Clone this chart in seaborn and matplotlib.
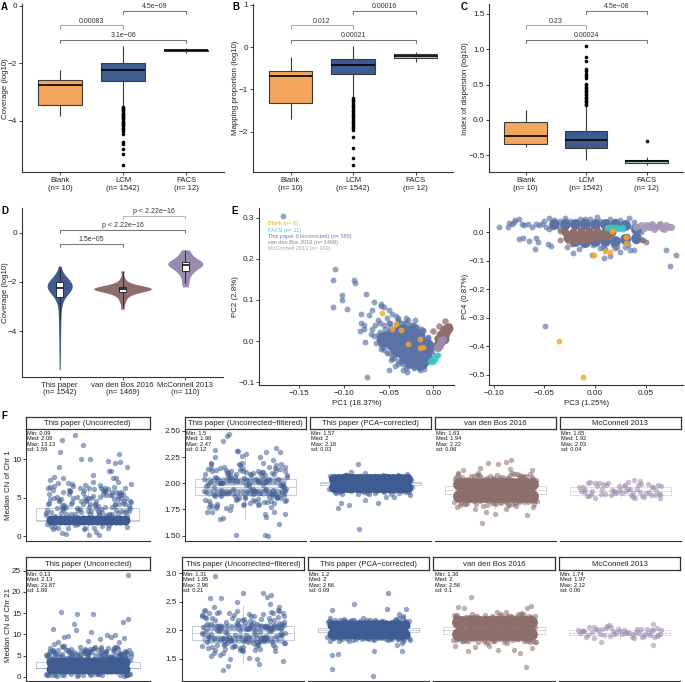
"""
Multi-panel QC figure: box plots, violins, PCA scatters and copy number strips.
Values are read off the published picture by eye.
"""
import matplotlib
matplotlib.use("Agg")
import matplotlib.pyplot as plt
import pandas as pd
import seaborn as sns

W, H = 685, 682

ORANGE = "#F2A65E"
BLUE = "#3E5C92"
BROWN = "#8E6E6D"
MAUVE = "#9A8AB0"
CYAN = "#3CC8C0"
FACS_FILL = "#A8C6C4"
SCAT_BLUE = "#5A72A6"
SCAT_ORANGE = "#F8A825"

# ---- panels A-C
box_groups = ["Blank", "LCM", "FACS"]
box_labels = ["Blank\n(n= 10)", "LCM\n(n= 1542)", "FACS\n(n= 12)"]

cov_blank = [-3.85, -3.47, -2.77, -2.58, -2.25]
cov_lcm = [-3.5, -2.62, -2.24, -2.0, -1.4]
cov_facs = [-1.64, -1.57, -1.55, -1.53, -1.47]
cov_out = [-3.52, -3.56, -3.6, -3.64, -3.68, -3.72, -3.76, -3.8, -3.84, -3.88, -3.92, -3.96, -4.0, -4.04,
           -4.08, -4.12, -4.16, -4.2, -4.25, -4.3, -4.37, -4.45, -4.75, -4.82, -5.0, -5.15, -5.55]

map_blank = [-1.69, -1.33, -0.69, -0.56, -0.24]
map_lcm = [-1.19, -0.64, -0.42, -0.27, 0.02]
map_facs = [-0.35, -0.25, -0.21, -0.17, -0.11]
map_out = [-1.2, -1.24, -1.28, -1.32, -1.36, -1.4, -1.44, -1.48, -1.52, -1.56, -1.6, -1.64, -1.68, -1.72,
           -1.76, -1.8, -1.84, -1.88, -1.92, -1.97, -2.13, -2.39, -2.63, -2.78]

iod_blank = [-0.38, -0.345, -0.23, -0.03, 0.14]
iod_lcm = [-0.57, -0.40, -0.29, -0.15, 0.2]
iod_facs = [-0.63, -0.61, -0.585, -0.56, -0.53]
iod_out = [0.21, 0.23, 0.25, 0.27, 0.29, 0.31, 0.33, 0.35, 0.37, 0.39, 0.41, 0.43, 0.45, 0.47, 0.49, 0.51,
           0.6, 0.62, 0.65, 0.69, 0.72, 0.83, 0.89, 1.04]
iod_facs_out = [-0.3]

# ---- panel D
vio_groups = ["This paper", "van den Bos 2016", "McConnell 2013"]
vio_labels = ["This paper\n(n= 1542)", "van den Bos 2016\n(n= 1469)", "McConnell 2013\n(n= 110)"]
vio_this = [-5.55, -5.0, -4.6, -4.2, -3.9, -3.6, -3.35, -3.1, -2.9, -2.75, -2.65, -2.55, -2.48, -2.42, -2.38,
            -2.34, -2.3, -2.28, -2.26, -2.24, -2.23, -2.22, -2.21, -2.2, -2.19, -2.18, -2.17, -2.16, -2.15, -2.14,
            -2.13, -2.12, -2.11, -2.1, -2.08, -2.06, -2.04, -2.02, -2.0, -1.96, -1.92, -1.87, -1.8, -1.65, -1.35]
vio_vdb = [-3.1, -2.85, -2.7, -2.6, -2.52, -2.47, -2.43, -2.4, -2.38, -2.36, -2.34, -2.32, -2.31, -2.3, -2.29,
           -2.28, -2.27, -2.26, -2.25, -2.24, -2.23, -2.22, -2.2, -2.18, -2.15, -2.12, -2.08, -2.0, -1.85, -1.55]
vio_mcc = [-2.2, -2.05, -1.9, -1.75, -1.65, -1.58, -1.52, -1.47, -1.42, -1.38, -1.35, -1.32, -1.3, -1.27, -1.25,
           -1.22, -1.2, -1.17, -1.14, -1.1, -1.05, -0.98, -0.9, -0.8, -0.7]
vbox_this = [-3.5, -2.61, -2.23, -2.0, -1.4]
vbox_vdb = [-3.0, -2.42, -2.3, -2.22, -1.6]
vbox_mcc = [-2.05, -1.54, -1.32, -1.18, -0.72]

# ---- panel E, PC1 / PC2
pc1_blue = [-0.168, -0.11, -0.112, -0.089, -0.088, -0.102, -0.102, -0.112, -0.096, -0.075, -0.066, -0.059, -0.068,
            -0.058, -0.055, -0.081, -0.072, -0.081, -0.078, -0.082, -0.077, -0.062, -0.076, -0.074, -0.049, -0.043,
            -0.034, -0.029, -0.058, -0.055, -0.05, -0.046, -0.042, -0.039, -0.052, -0.06, -0.065, -0.068, -0.07,
            -0.062, -0.055, -0.048, -0.04, -0.033, -0.026, -0.02, -0.012, -0.006, -0.003, -0.008, -0.015, -0.022,
            -0.028, -0.036, -0.044, -0.05, -0.056, -0.06, -0.028, -0.022, -0.014, -0.01, -0.03, -0.04, -0.047,
            -0.066, -0.06, -0.054, -0.048, -0.042, -0.036, -0.03, -0.024, -0.018, -0.012, -0.006, -0.004, -0.002,
            -0.006, -0.01, -0.016, -0.022, -0.028, -0.034, -0.04, -0.046, -0.052, -0.058, -0.064, -0.05, -0.04,
            -0.03, -0.02, -0.045, -0.035, -0.025, -0.015, -0.05, -0.06]
pc2_blue = [0.303, 0.176, 0.149, 0.149, 0.141, 0.112, 0.101, 0.084, 0.078, 0.115, 0.095, 0.09, 0.076,
            0.085, 0.082, 0.065, 0.063, 0.043, 0.03, 0.025, 0.04, 0.052, -0.002, -0.088, -0.07, -0.06,
            -0.07, -0.075, -0.01, -0.022, 0.075, 0.065, 0.06, 0.057, 0.055, 0.045, 0.04, 0.03, 0.018,
            0.015, 0.038, 0.045, 0.048, 0.045, 0.038, 0.033, 0.025, 0.008, -0.025, -0.05, -0.063, -0.062,
            -0.058, -0.05, -0.04, -0.03, -0.015, 0.0, 0.05, 0.04, 0.03, -0.068, -0.065, -0.055, -0.045,
            0.012, 0.022, 0.03, 0.034, 0.04, 0.043, 0.044, 0.04, 0.035, 0.028, 0.01, -0.01, -0.03,
            -0.045, -0.058, -0.066, -0.066, -0.06, -0.056, -0.048, -0.042, -0.03, -0.02, -0.005, 0.045, 0.05,
            0.055, 0.05, -0.035, -0.045, -0.058, -0.07, 0.015, 0.005]
pc1_core = [-0.055, -0.045, -0.035, -0.025, -0.018, -0.045, -0.035, -0.025, -0.015, -0.008, -0.04, -0.03, -0.02,
            -0.01, -0.03, -0.02, -0.01, -0.015, -0.025]
pc2_core = [0.005, 0.015, 0.022, 0.02, 0.012, -0.005, 0.002, 0.0, -0.005, -0.012, -0.02, -0.018, -0.02,
            -0.025, -0.035, -0.04, -0.04, -0.052, -0.045]
pc1_brown = [0.006, 0.013, 0.0, 0.003, 0.008, 0.011, 0.015, 0.017, 0.018, 0.004, 0.012, 0.016, 0.01, 0.014]
pc2_brown = [0.036, 0.048, 0.025, -0.013, 0.018, 0.03, 0.034, 0.036, 0.03, 0.008, 0.032, 0.026, 0.024, 0.012]
pc1_brown_core = [0.004, 0.007, 0.01, 0.012, 0.014, 0.016, 0.009, 0.012, 0.006]
pc2_brown_core = [-0.012, -0.002, 0.008, 0.016, 0.024, 0.031, 0.015, 0.005, 0.004]
pc1_mauve = [0.004, 0.006, 0.008, 0.01, 0.005, 0.007, 0.009, 0.011]
pc2_mauve = [-0.014, -0.01, -0.005, 0.0, -0.018, -0.012, 0.003, 0.006]
pc1_cyan = [-0.004, -0.002, 0.0, 0.001, 0.002, 0.003, 0.004, 0.0, -0.003, 0.002, 0.005]
pc2_cyan = [-0.05, -0.047, -0.044, -0.041, -0.038, -0.036, -0.034, -0.05, -0.046, -0.045, -0.033]
pc1_orange = [-0.057, -0.046, -0.042, -0.036, -0.028, -0.015, -0.015, -0.012]
pc2_orange = [0.068, 0.029, 0.041, 0.027, -0.006, 0.005, -0.018, -0.015]

# ---- panel E, PC3 / PC4
pc3_blue = [-0.095, -0.049, 0.074, 0.08, 0.07, 0.034, 0.002, -0.075, -0.071, -0.065, -0.059, -0.058, -0.056, -0.046,
            -0.043, -0.022, -0.016, -0.003, 0.009, 0.015, 0.025, 0.035, 0.038, 0.047, -0.086, -0.085, -0.079, -0.075,
            -0.045, -0.03, -0.082, -0.072, -0.066, -0.058, -0.052, -0.04, -0.035, -0.025, -0.018, -0.01, -0.08,
            -0.07, -0.062, -0.055, -0.048, -0.042, -0.032, -0.02, -0.012, 0.005, 0.012, 0.02, 0.028, 0.036, 0.042,
            0.04, 0.03, 0.018, 0.008, -0.002, 0.01, 0.02, 0.03, 0.04, -0.01, 0.045, -0.028, -0.05, -0.04, -0.015,
            -0.005, 0.015, 0.025, 0.038, -0.045, -0.035, -0.012, 0.005, 0.022, 0.033]
pc4_blue = [0.018, -0.33, -0.119, -0.08, -0.063, 0.051, 0.055, -0.022, -0.019, -0.031, -0.058, -0.02, -0.035, -0.04,
            -0.048, -0.072, -0.06, -0.078, -0.09, -0.084, -0.069, -0.063, -0.063, -0.028, 0.019, 0.033, 0.042, 0.045,
            0.05, 0.05, 0.028, 0.03, 0.03, 0.03, 0.03, 0.03, 0.04, 0.04, 0.035, 0.045, 0.035,
            0.025, 0.02, 0.025, 0.02, 0.02, 0.02, 0.03, 0.04, 0.04, 0.035, 0.04, 0.03, 0.02, 0.01,
            -0.02, -0.035, -0.045, -0.05, -0.045, -0.06, -0.055, -0.05, -0.03, -0.04, 0.0, -0.05, 0.04, 0.044, 0.046,
            0.048, 0.046, 0.044, 0.035, 0.012, 0.01, -0.045, -0.055, -0.05, -0.045]
pc3_core = [-0.04, -0.03, -0.02, -0.01, 0.0, 0.01, 0.02, 0.03, 0.04, -0.02, -0.01, 0.0, 0.01, 0.02, 0.03, 0.04]
pc4_core = [0.03, 0.03, 0.03, 0.03, 0.03, 0.03, 0.03, 0.025, 0.012, -0.03, -0.035, -0.03, -0.03, -0.03, -0.025, -0.02]
pc3_brown = [-0.035, -0.035, -0.023, 0.046, 0.032, -0.027, 0.05, -0.016, -0.006]
pc4_brown = [-0.028, 0.005, -0.04, -0.028, -0.014, -0.032, -0.034, -0.033, -0.03]
pc3_brown_core = [-0.03, -0.022, -0.014, -0.006, 0.002, 0.01, 0.017, -0.028, -0.02, -0.012, -0.004, 0.004, 0.012,
                  -0.026, -0.018, -0.01, -0.002, 0.006, 0.014]
pc4_brown_core = [0.0, 0.002, 0.003, 0.004, 0.004, 0.003, 0.002, -0.02, -0.022, -0.022, -0.02, -0.018, -0.012,
                  -0.01, -0.011, -0.011, -0.01, -0.009, -0.006]
pc3_mauve = [0.04, 0.045, 0.05, 0.053, 0.056, 0.06, 0.063, 0.066, 0.07, 0.073, 0.075, 0.048, 0.058, 0.064, 0.068, 0.054]
pc4_mauve = [0.02, 0.024, 0.027, 0.018, 0.03, 0.018, 0.026, 0.015, 0.024, 0.02, 0.017, 0.015, 0.012, 0.03, 0.012, 0.026]
pc3_cyan = [0.012, 0.015, 0.018, 0.021, 0.024, 0.027, 0.016, 0.02, 0.024, 0.028, 0.013]
pc4_cyan = [0.015, 0.018, 0.02, 0.017, 0.016, 0.018, 0.012, 0.01, 0.012, 0.012, 0.02]
pc3_orange = [-0.036, -0.012, -0.001, 0.01, 0.015, 0.017, 0.031, 0.031]
pc4_orange = [-0.38, -0.508, -0.08, -0.067, -0.07, 0.005, -0.037, -0.015]

# ---- panel F, shared horizontal jitter for the cloud of each strip
jitter = [-0.93, 0.41, -0.22, 0.78, 0.05, -0.61, 0.29, -0.84, 0.66, -0.37, 0.97, -0.08, 0.52, -0.72, 0.17, -0.46, 0.88,
          -0.15, 0.35, -0.97, 0.61, -0.29, 0.73, 0.0, -0.55, 0.47, -0.79, 0.23, -0.41, 0.91, -0.66, 0.11, 0.57, -0.89,
          0.31, -0.19, 0.82, -0.51, 0.69, -0.03, -0.75, 0.39, 0.95, -0.33, 0.14, -0.6, 0.76, -0.12, 0.5, -0.87, 0.26,
          -0.44, 0.85, 0.08, -0.69, 0.63, -0.25, 0.43, -0.81, 0.19, 0.99, -0.57, 0.33, -0.06, 0.71, -0.39, 0.55, -0.95,
          0.02, 0.87]
core_cols = [-0.36, -0.315, -0.27, -0.225, -0.18, -0.135, -0.09, -0.045, 0.0, 0.045, 0.09, 0.135, 0.18, 0.225, 0.27,
             0.315, 0.36]

# chr 1
c1_un_cloud = [4.1, 6.2, 3.4, 5.3, 2.9, 4.8, 6.6, 3.1, 5.7, 4.4, 3.7, 6.0, 2.7, 5.1, 4.0, 6.9, 3.3, 4.6, 5.5, 3.0, 6.4, 2.8,
               4.2, 5.0, 3.6, 6.1, 4.9, 3.2, 5.8, 2.6, 4.5, 7.0, 3.8, 5.4, 3.5, 6.3, 4.3, 2.9, 5.2, 4.7, 1.2, 5.9, 3.9,
               6.5, 1.0, 4.0, 3.3, 5.6, 1.4, 4.8, 2.7, 6.0, 3.1, 5.0, 1.1, 4.2, 3.6, 5.3, 0.9, 4.5, 6.7, 3.4, 1.3, 5.1,
               3.0, 4.1, 5.7, 1.5, 3.8, 6.2]
c1_un_x = [-0.12, -0.25, -0.05, -0.265, -0.07, 0.02, -0.28, 0.2, 0.265, 0.31, 0.3, 0.38, 0.21, 0.23, 0.05, -0.33, -0.37,
           -0.24, 0.245, 0.275, -0.21, -0.25, 0.01, 0.105, -0.03, 0.08]
c1_un_y = [13.13, 12.5, 11.8, 10.9, 10.0, 10.0, 9.0, 9.7, 9.5, 9.6, 10.65, 8.9, 8.4, 8.5, 7.9, 7.7, 7.3,
           7.5, 7.5, 7.6, 0.3, 0.4, 0.15, 0.09, 1.0, 0.55]
c1_un_rows = [2.08]

c1_fi_cloud = [1.97, 2.11, 1.84, 2.04, 1.92, 2.15, 1.79, 2.01, 1.88, 2.08, 1.95, 2.19, 1.82, 2.06, 1.9, 2.13, 1.99, 1.86, 2.1, 1.93,
               1.77, 2.03, 2.17, 1.87, 2.0, 1.94, 2.12, 1.83, 2.07, 1.96, 1.8, 2.09, 1.91, 2.14, 1.85, 2.02, 1.98, 2.16, 1.81, 2.05,
               1.89, 2.11, 1.93, 1.78, 2.08, 2.0, 1.86, 2.13, 1.95, 1.83, 2.04, 1.91, 2.18, 1.97, 1.76, 2.1, 1.88, 2.01, 2.15, 1.84,
               2.06, 1.94, 1.8, 2.12, 1.9, 2.03, 1.87, 2.09, 1.98, 1.92]
c1_fi_x = [-0.16, -0.185, -0.22, -0.3, -0.086, -0.076, 0.01, -0.036, 0.146, 0.21, 0.3, 0.34, 0.27, 0.18, 0.39, 0.39, -0.3,
           -0.34, -0.096, 0.2, 0.23, 0.33, -0.25, -0.225, -0.285, -0.38, -0.33, 0.195, 0.21, 0.39, 0.28, -0.15]
c1_fi_y = [2.47, 2.455, 2.4, 2.32, 2.31, 2.31, 2.28, 2.26, 2.25, 2.3, 2.335, 2.3, 2.22, 2.19, 2.16, 2.12, 2.25,
           2.18, 1.51, 1.51, 1.5, 1.61, 1.655, 1.665, 1.785, 1.73, 1.73, 1.71, 1.68, 1.71, 1.73, 1.745]
c1_fi_rows = [1.92, 2.02]

c1_pc_cloud = [2.05, 1.95, 2.07, 1.93, 2.06, 1.94, 2.04, 1.92, 2.08, 1.96, 2.03, 1.91, 2.06, 1.94, 2.05, 1.93, 2.07, 1.92, 2.04, 1.95,
               2.06, 1.9, 2.05, 1.94, 2.08, 1.93, 2.03, 1.95, 2.07, 1.92, 2.04, 1.91, 2.06, 1.96, 2.05, 1.93, 2.02, 1.94, 2.07, 1.9]
c1_pc_x = [-0.126, -0.113, -0.32, -0.21, -0.05, 0.076, 0.16, 0.235, 0.39, -0.19, -0.05, 0.125, 0.36, -0.29]
c1_pc_y = [2.18, 1.567, 1.76, 1.79, 1.84, 1.81, 1.865, 1.87, 1.89, 2.11, 2.1, 2.08, 2.09, 1.81]
c1_pc_rows = [1.96, 2.04]

c1_vb_cloud = [2.06, 1.8, 2.04, 1.82, 2.08, 1.84, 2.05, 1.79, 2.07, 1.83, 2.03, 1.81, 2.09, 1.85, 2.06, 1.8, 2.04, 1.83, 2.08, 1.82,
               2.05, 1.78, 2.07, 1.84, 2.03, 1.81, 2.06, 1.83, 2.1, 1.8, 2.04, 1.82, 2.07, 1.85, 2.05, 1.79, 2.09, 1.83, 2.06, 1.81,
               1.9, 1.95, 2.0, 1.87, 1.92, 1.97, 2.02, 1.86, 1.94, 1.99]
c1_vb_x = [0.16, -0.076, 0.03, 0.11, 0.145, -0.15, -0.32, 0.36, -0.37, 0.245, -0.137, 0.31, 0.0, -0.2, -0.385, -0.09, 0.11, 0.37]
c1_vb_y = [2.22, 2.19, 2.18, 2.2, 2.135, 2.145, 2.13, 2.13, 2.1, 2.08, 1.625, 1.7, 1.71, 1.75, 1.775, 1.73, 1.75, 1.77]
c1_vb_rows = [1.88, 1.99]

c1_mc_cloud = [1.93, 1.98, 1.89, 1.96, 1.91, 2.0, 1.87, 1.94, 1.99, 1.9, 1.97, 1.92, 1.88, 2.01, 1.95, 1.9, 1.98, 1.93, 1.86, 1.96,
               1.91, 2.0, 1.89, 1.94, 1.97, 1.92, 1.88, 1.95, 1.99, 1.9, 1.93, 1.98, 1.87, 1.96, 1.91, 1.94, 1.89, 2.0, 1.92, 1.97,
               1.88, 1.95, 1.9, 1.98, 1.93, 1.86, 1.96, 1.91, 1.99, 1.92, 1.89, 1.95, 1.94, 1.97, 1.9]
c1_mc_x = [0.39, 0.14, -0.32, 0.08, 0.2]
c1_mc_y = [1.855, 2.03, 2.0, 2.01, 2.02]

# chr 21
c21_un_cloud = [4.5, 6.1, 5.2, 3.8, 6.6, 4.9, 5.6, 4.2, 6.9, 5.0, 3.9, 6.3, 4.6, 5.4, 7.1, 4.0, 5.8, 6.0, 4.4, 5.1, 6.7, 3.7, 5.5,
                4.8, 7.3, 4.1, 5.9, 6.2, 4.7, 5.3, 3.6, 6.5, 4.3, 5.7, 7.0, 4.9, 5.2, 6.4, 4.0, 5.0, 0.4, 5.6, 0.6, 4.6, 6.8,
                0.3, 5.4, 0.5, 4.2, 6.1, 0.7, 5.8, 4.4, 0.5, 6.3, 5.1, 0.2, 4.8, 6.0, 0.6, 5.5, 4.1, 0.4, 6.6, 5.3, 0.7, 4.5,
                0.5, 5.9, 0.3]
c21_un_x = [0.39, -0.26, -0.11, 0.05, 0.39, 0.34, -0.14, -0.34, -0.12, 0.03, -0.23, -0.19, 0.18, 0.26, 0.22, 0.35, -0.29,
            -0.33, 0.0, 0.12, 0.3, 0.35]
c21_un_y = [23.87, 15.3, 14.9, 14.8, 13.6, 13.0, 12.4, 11.2, 10.9, 10.5, 9.4, 9.5, 9.8, 9.9, 9.4, 9.2, 8.1,
            7.7, 8.5, 8.8, 8.2, 0.13]
c21_un_rows = [1.9, 3.4]

c21_fi_cloud = [1.93, 2.2, 1.72, 2.05, 1.84, 2.31, 1.66, 2.12, 1.98, 1.78, 2.25, 1.9, 2.08, 1.7, 2.16, 1.86, 2.02, 2.34, 1.75, 1.96,
                2.22, 1.82, 2.1, 1.63, 2.0, 2.28, 1.88, 2.14, 1.68, 1.94, 2.18, 1.8, 2.06, 2.36, 1.73, 1.91, 2.24, 1.85, 2.03, 1.65,
                2.11, 1.97, 1.77, 2.3, 1.89, 2.07, 1.71, 2.19, 1.83, 1.99, 2.26, 1.76, 2.13, 1.92, 1.6, 2.04, 2.21, 1.87, 1.69, 2.09,
                1.95, 2.33, 1.79, 2.01, 1.74, 2.15, 1.9, 2.27, 1.81, 2.06]
c21_fi_x = [-0.28, 0.0, 0.2, 0.275, -0.32, -0.22, 0.235, -0.06, 0.27, 0.35, -0.29, -0.385, 0.39, -0.2, -0.15, -0.13, 0.155,
            -0.31, -0.23, 0.055, 0.14, 0.39]
c21_fi_y = [2.96, 2.65, 2.65, 2.62, 2.575, 2.575, 2.59, 2.49, 2.46, 2.41, 2.41, 2.34, 2.31, 1.31, 1.38, 1.5, 1.41,
            1.55, 1.56, 1.52, 1.49, 1.47]
c21_fi_rows = [1.85, 2.05]

c21_pc_cloud = [2.17, 1.85, 2.15, 1.88, 2.18, 1.84, 2.14, 1.87, 2.2, 1.83, 2.16, 1.86, 2.13, 1.89, 2.19, 1.82, 2.15, 1.85, 2.17, 1.88,
                2.14, 1.84, 2.21, 1.87, 2.16, 1.83, 2.18, 1.86, 2.13, 1.9, 2.19, 1.85, 2.15, 1.81, 2.17, 1.88, 2.22, 1.84, 2.14, 1.86]
c21_pc_x = [0.197, -0.143, 0.19, 0.37, 0.305, 0.34, -0.355, -0.355, -0.295, -0.36, 0.05, 0.06, 0.335, 0.28, 0.33]
c21_pc_y = [2.66, 2.47, 2.37, 2.37, 2.28, 2.25, 2.35, 1.32, 1.58, 1.56, 1.2, 1.64, 1.645, 1.74, 1.77]
c21_pc_rows = [1.94, 2.1]

c21_vb_cloud = [2.24, 1.83, 2.27, 1.85, 2.22, 1.81, 2.25, 1.84, 2.2, 1.8, 2.26, 1.86, 2.23, 1.82, 2.28, 1.85, 2.21, 1.79, 2.25, 1.83,
                2.27, 1.84, 2.22, 1.81, 2.24, 1.86, 2.2, 1.8, 2.26, 1.82, 2.23, 1.85, 2.29, 1.83, 2.21, 1.78, 2.25, 1.84, 2.27, 1.81,
                2.0, 1.95, 2.05, 1.9, 2.1, 1.98, 2.03, 1.93, 2.08, 1.97]
c21_vb_x = [-0.23, -0.36, -0.3, 0.36, 0.32, 0.03, 0.115, 0.27, 0.31, -0.26, 0.255, 0.37, 0.04, -0.39, -0.19, 0.2, -0.05]
c21_vb_y = [2.58, 2.41, 2.4, 2.42, 2.4, 2.33, 2.33, 2.31, 1.36, 1.64, 1.6, 1.69, 1.66, 1.72, 1.7, 1.66, 1.72]
c21_vb_rows = [1.93, 2.15]

c21_mc_cloud = [1.96, 2.02, 1.9, 2.0, 1.94, 2.05, 1.88, 1.98, 2.03, 1.92, 2.01, 1.95, 1.89, 2.06, 1.97, 1.93, 2.04, 1.99, 1.87, 2.0,
                1.94, 2.07, 1.91, 1.98, 2.02, 1.95, 1.88, 1.96, 2.03, 1.92, 1.97, 2.01, 1.9, 1.99, 1.93, 2.05, 1.89, 2.0, 1.95, 2.02,
                1.91, 1.97, 1.94, 2.04, 1.96, 1.86, 2.0, 1.93, 2.03, 1.98]
c21_mc_x = [0.33, 0.335, -0.18, -0.1, 0.37]
c21_mc_y = [2.12, 1.74, 1.79, 2.09, 1.9]

# five number boxes behind the strips: min, q1, median, q3, max
c1_boxes = [[0.09, 2.0, 2.08, 3.7, 6.8], [1.66, 1.89, 1.96, 2.04, 2.26], [1.93, 1.985, 2.0, 2.015, 2.07],
            [1.75, 1.9, 1.94, 1.97, 2.1], [1.85, 1.89, 1.93, 1.96, 2.01]]
c21_boxes = [[0.13, 2.0, 2.13, 3.5, 6.5], [1.4, 1.83, 1.95, 2.08, 2.45], [1.85, 1.97, 2.0, 2.04, 2.15],
             [1.78, 1.94, 2.0, 2.06, 2.22], [1.84, 1.92, 1.96, 2.0, 2.08]]

c1_stats = ["Min: 0.09\nMed: 2.08\nMax: 13.13\nsd: 1.59", "Min: 1.5\nMed: 1.96\nMax: 2.47\nsd: 0.12",
            "Min: 1.57\nMed: 2\nMax: 2.18\nsd: 0.03", "Min: 1.63\nMed: 1.94\nMax: 2.22\nsd: 0.06",
            "Min: 1.65\nMed: 1.92\nMax: 2.03\nsd: 0.04"]
c21_stats = ["Min: 0.13\nMed: 2.13\nMax: 23.87\nsd: 1.89", "Min: 1.31\nMed: 1.95\nMax: 2.96\nsd: 0.21",
             "Min: 1.2\nMed: 2\nMax: 2.66\nsd: 0.09", "Min: 1.36\nMed: 2\nMax: 2.58\nsd: 0.1",
             "Min: 1.74\nMed: 1.97\nMax: 2.12\nsd: 0.06"]
strip_titles = ["This paper (Uncorrected)", "This paper (Uncorrected\u2212filtered)", "This paper (PCA\u2212corrected)",
                "van den Bos 2016", "McConnell 2013"]

legend_lines = ["Blank (n= 8)", "FACS (n= 11)", "This paper (Uncorrected) (n= 588)",
                "van den Bos 2016 (n= 1468)", "McConnell 2013 (n= 109)"]
legend_colors = ["#F5A623", "#3CC8C0", "#6D83B0", "#9A7B7B", "#AD9FBF"]

sns.set_theme(style="ticks")
plt.rcParams["font.family"] = ["Liberation Sans", "DejaVu Sans"]
plt.rcParams["axes.linewidth"] = 0.8
plt.rcParams["axes.edgecolor"] = "#333333"
plt.rcParams["text.color"] = "#222222"
plt.rcParams["axes.labelcolor"] = "#222222"
plt.rcParams["xtick.color"] = "#222222"
plt.rcParams["ytick.color"] = "#222222"

fig = plt.figure(figsize=(W / 100, H / 100), dpi=100)


def px_axes(left, top, right, bottom):
    ax = fig.add_axes([left / W, 1 - bottom / H, (right - left) / W, (bottom - top) / H])
    ax.patch.set_alpha(0)
    sns.despine(ax=ax)
    ax.tick_params(axis="y", labelsize=5.9, length=2, width=0.6, pad=1.5)
    ax.tick_params(axis="x", labelsize=5.6, length=2, width=0.6, pad=1.5)
    return ax


def set_ylabel_at(ax, text, x_px):
    # put the y label at a fixed pixel column, the tick widths differ per panel
    ax.set_ylabel(text, fontsize=5.7)
    box = ax.get_position()
    ax.yaxis.set_label_coords((x_px / W - box.x0) / box.width, 0.5)


def bracket(ax, x0, x1, frac, label, color="#777777"):
    trans = ax.get_xaxis_transform()
    tip = 0.021
    ax.plot([x0, x0, x1, x1], [frac - tip, frac, frac, frac - tip], color=color, lw=0.75,
            transform=trans, clip_on=False)
    ax.text((x0 + x1) / 2, frac + 0.003, label, transform=trans, ha="center", va="bottom", fontsize=5, color="#333333")


def box_panel(ax, boxes, fliers, ylim, yticks, ylabel, label_x):
    df = pd.DataFrame({
        "group": [g for g, b in zip(box_groups, boxes) for _ in b],
        "value": [v for b in boxes for v in b],
    })
    sns.boxplot(data=df, x="group", y="value", hue="group", order=box_groups, ax=ax, legend=False,
                palette={"Blank": ORANGE, "LCM": BLUE, "FACS": FACS_FILL}, saturation=1, width=0.7,
                whis=(0, 100), showfliers=False, showcaps=False, linecolor="#3a3a3a", linewidth=0.8,
                medianprops={"color": "black", "linewidth": 1.2})
    for group, vals in fliers.items():
        sns.stripplot(x=[group] * len(vals), y=vals, order=box_groups, ax=ax, jitter=False, color="black", size=2.6)
    ax.set_xlim(-0.6, 2.6)
    ax.set_ylim(*ylim)
    ax.set_yticks(yticks)
    ax.set_xticks(range(3))
    ax.set_xticklabels(box_labels, linespacing=1.15)
    ax.set_xlabel("")
    set_ylabel_at(ax, ylabel, label_x)


# ---- A, B, C
ax_a = px_axes(22, 4, 224, 172.3)
box_panel(ax_a, [cov_blank, cov_lcm, cov_facs], {"LCM": cov_out}, (-5.8, 0.06), [0, -2, -4], "Coverage (log10)", 9)
bracket(ax_a, 0, 1, 0.873, "0.00083", "#aaaaaa")
bracket(ax_a, 1, 2, 0.96, "4.5e\u221209")
bracket(ax_a, 0, 2, 0.787, "3.1e\u221206")

ax_b = px_axes(253, 4, 453, 172.3)
box_panel(ax_b, [map_blank, map_lcm, map_facs], {"LCM": map_out}, (-2.96, 1.02), [1, 0, -1, -2],
          "Mapping proportion (log10)", 239)
bracket(ax_b, 0, 1, 0.873, "0.012", "#aaaaaa")
bracket(ax_b, 1, 2, 0.96, "0.00016")
bracket(ax_b, 0, 2, 0.787, "0.00021")

ax_c = px_axes(489.3, 4, 683, 172.3)
box_panel(ax_c, [iod_blank, iod_lcm, iod_facs], {"LCM": iod_out, "FACS": iod_facs_out}, (-0.74, 1.64),
          [1.5, 1.0, 0.5, 0.0, -0.5], "Index of dispersion (log10)", 469)
bracket(ax_c, 0, 1, 0.873, "0.23", "#aaaaaa")
bracket(ax_c, 1, 2, 0.96, "4.5e\u221208")
bracket(ax_c, 0, 2, 0.787, "0.00024")

# ---- D
ax_d = px_axes(22, 208, 223, 376.7)
vio_sets = [(vio_groups[0], vio_this, BLUE, 0.40, vbox_this), (vio_groups[1], vio_vdb, BROWN, 0.92, vbox_vdb),
            (vio_groups[2], vio_mcc, MAUVE, 0.56, vbox_mcc)]
for group, vals, col, wid, box in vio_sets:
    sns.violinplot(x=[group] * len(vals), y=vals, order=vio_groups, ax=ax_d, color=col, saturation=1, width=wid,
                   cut=0, inner=None, density_norm="width", linewidth=0, bw_adjust=0.7)
    sns.boxplot(x=[group] * len(box), y=box, order=vio_groups, ax=ax_d, color="white", saturation=1, width=0.11,
                whis=(0, 100), showfliers=False, showcaps=False, linecolor="#2a2a2a", linewidth=0.7,
                medianprops={"color": "#111111", "linewidth": 1.2})
ax_d.set_xlim(-0.6, 2.6)
ax_d.set_ylim(-5.84, 1.0)
ax_d.set_yticks([0, -2, -4])
ax_d.set_xticks(range(3))
ax_d.set_xticklabels(vio_labels, linespacing=1.15)
set_ylabel_at(ax_d, "Coverage (log10)", 9)
bracket(ax_d, 1, 2, 0.954, "p < 2.22e\u221216", "#bbbbbb")
bracket(ax_d, 0, 2, 0.87, "p < 2.22e\u221216")
bracket(ax_d, 0, 1, 0.787, "1.5e\u221205")

# ---- E
PCS = 18


def pc_scatter(ax, xs, ys, col, s=PCS, alpha=0.65):
    sns.scatterplot(x=xs, y=ys, ax=ax, color=col, s=s, alpha=alpha, linewidth=0)


ax_e1 = px_axes(259.3, 208.3, 453.7, 385.3)
pc_scatter(ax_e1, pc1_core, pc2_core, SCAT_BLUE, s=130, alpha=1)
pc_scatter(ax_e1, pc1_blue, pc2_blue, SCAT_BLUE)
pc_scatter(ax_e1, pc1_brown_core, pc2_brown_core, BROWN, s=50, alpha=1)
pc_scatter(ax_e1, pc1_brown, pc2_brown, BROWN, s=22, alpha=0.75)
pc_scatter(ax_e1, pc1_mauve, pc2_mauve, MAUVE, s=26, alpha=0.9)
pc_scatter(ax_e1, pc1_cyan, pc2_cyan, CYAN, alpha=0.75)
pc_scatter(ax_e1, pc1_orange, pc2_orange, SCAT_ORANGE, alpha=0.8)
ax_e1.set_xlim(-0.1945, 0.0228)
ax_e1.set_ylim(-0.1075, 0.3227)
ax_e1.set_xticks([-0.15, -0.10, -0.05, 0.00])
ax_e1.set_yticks([-0.1, 0.0, 0.1, 0.2, 0.3])
ax_e1.tick_params(axis="x", labelsize=5.9)
ax_e1.set_xlabel("PC1 (18.37%)", fontsize=5.7, labelpad=2)
set_ylabel_at(ax_e1, "PC2 (2.8%)", 239)
for i, (line, col) in enumerate(zip(legend_lines, legend_colors)):
    fig.text(268 / W, 1 - (224 + 6.1 * i) / H, line, color=col, fontsize=4, va="center")

ax_e2 = px_axes(489.3, 208.3, 683, 385.3)
pc_scatter(ax_e2, pc3_core, pc4_core, SCAT_BLUE, s=60, alpha=1)
pc_scatter(ax_e2, pc3_blue, pc4_blue, SCAT_BLUE)
pc_scatter(ax_e2, pc3_brown_core, pc4_brown_core, BROWN, s=34, alpha=1)
pc_scatter(ax_e2, pc3_brown, pc4_brown, BROWN, alpha=0.75)
pc_scatter(ax_e2, pc3_mauve, pc4_mauve, "#A79AB8", s=26, alpha=0.9)
pc_scatter(ax_e2, pc3_cyan, pc4_cyan, CYAN, alpha=0.8)
pc_scatter(ax_e2, pc3_orange, pc4_orange, SCAT_ORANGE, alpha=0.85)
ax_e2.set_xlim(-0.1043, 0.0868)
ax_e2.set_ylim(-0.5361, 0.0839)
ax_e2.set_xticks([-0.10, -0.05, 0.00, 0.05])
ax_e2.set_yticks([0.0, -0.1, -0.2, -0.3, -0.4, -0.5])
ax_e2.tick_params(axis="x", labelsize=5.9)
ax_e2.set_xlabel("PC3 (1.25%)", fontsize=5.7, labelpad=2)
set_ylabel_at(ax_e2, "PC4 (0.87%)", 469)


# ---- F
def strip_panel(box, strip, title, stats, five, cloud, xs, ys, rows, color, core_s, core_alpha, ylim, yticks,
                ylabel=None, left_axis=True, fmt=None):
    left, top, right, bottom = box
    ax = px_axes(left, top, right, bottom)
    sns.boxplot(y=five, ax=ax, width=1.0, fill=False, color=color, whis=(0, 100), showfliers=False, showcaps=False,
                linewidth=0.6, boxprops={"alpha": 0.35}, whiskerprops={"alpha": 0.35}, medianprops={"alpha": 0.35})
    for row in rows:
        sns.scatterplot(x=core_cols, y=[row] * len(core_cols), ax=ax, color=color, s=core_s, alpha=core_alpha,
                        linewidth=0)
    sns.scatterplot(x=[j * 0.42 for j in jitter[:len(cloud)]], y=cloud, ax=ax, color=color, s=15, alpha=0.55,
                    linewidth=0)
    if color != MAUVE:
        # the mass of cells is far denser than the values typed here, so the cloud goes in twice
        sns.scatterplot(x=[j * 0.42 for j in jitter[::-1][:len(cloud)]], y=cloud, ax=ax, color=color, s=15, alpha=0.55,
                        linewidth=0)
    sns.scatterplot(x=xs, y=ys, ax=ax, color=color, s=15, alpha=0.55, linewidth=0)
    ax.set_xlim(-0.6, 0.6)
    ax.set_ylim(*ylim)
    ax.set_xticks([])
    ax.set_ylabel("")
    ax.set_xlabel("")
    if left_axis:
        ax.set_yticks(yticks)
        if fmt:
            ax.set_yticklabels([fmt % t for t in yticks])
    else:
        ax.set_yticks([])
        ax.spines["left"].set_visible(False)
    if ylabel:
        set_ylabel_at(ax, ylabel, 12)
    ax.text(0.012, 0.985, stats, transform=ax.transAxes, fontsize=4.1, va="top", ha="left", linespacing=1.12,
            color="#111111")
    s = fig.add_axes([left / W, 1 - strip[1] / H, (right - left) / W, (strip[1] - strip[0]) / H])
    s.set_xticks([])
    s.set_yticks([])
    for sp in s.spines.values():
        sp.set_linewidth(0.9)
    s.text(0.5, 0.47, title, transform=s.transAxes, ha="center", va="center", fontsize=5.6)
    return ax


row1_x = [(26, 149.5), (185, 305.7), (310, 430.7), (435, 555.7), (560, 680.7)]
row2_x = [(26, 150), (182, 304), (307.5, 429), (433.3, 555), (559, 680)]
row1_lim = (1.454, 2.515)
row2_lim = (1.11, 3.06)
row1_ticks = [1.50, 1.75, 2.00, 2.25, 2.50]
row2_ticks = [1.5, 2.0, 2.5, 3.0]

row1 = [
    (c1_un_cloud, c1_un_x, c1_un_y, c1_un_rows, BLUE, 52, 1.0),
    (c1_fi_cloud, c1_fi_x, c1_fi_y, c1_fi_rows, BLUE, 36, 0.4),
    (c1_pc_cloud, c1_pc_x, c1_pc_y, c1_pc_rows, BLUE, 62, 1.0),
    (c1_vb_cloud, c1_vb_x, c1_vb_y, c1_vb_rows, BROWN, 85, 1.0),
    (c1_mc_cloud, c1_mc_x, c1_mc_y, [], MAUVE, 12, 0.55),
]
row2 = [
    (c21_un_cloud, c21_un_x, c21_un_y, c21_un_rows, BLUE, 52, 1.0),
    (c21_fi_cloud, c21_fi_x, c21_fi_y, c21_fi_rows, BLUE, 36, 0.4),
    (c21_pc_cloud, c21_pc_x, c21_pc_y, c21_pc_rows, BLUE, 52, 1.0),
    (c21_vb_cloud, c21_vb_x, c21_vb_y, c21_vb_rows, BROWN, 85, 1.0),
    (c21_mc_cloud, c21_mc_x, c21_mc_y, [], MAUVE, 12, 0.55),
]

for i in range(5):
    l, r = row1_x[i]
    cloud, xs, ys, rows, col, cs, ca = row1[i]
    lim = (-0.58, 13.86) if i == 0 else row1_lim
    ticks = [0, 5, 10] if i == 0 else row1_ticks
    strip_panel((l, 429.3, r, 540.5), (416.7, 429.3), strip_titles[i], c1_stats[i], c1_boxes[i], cloud, xs, ys, rows,
                col, cs, ca, lim, ticks, ylabel="Median CN of Chr 1" if i == 0 else None, left_axis=i < 2,
                fmt="%.2f" if i == 1 else None)

    l, r = row2_x[i]
    cloud, xs, ys, rows, col, cs, ca = row2[i]
    lim = (-1.01, 25.16) if i == 0 else row2_lim
    ticks = [0, 5, 10, 15, 20, 25] if i == 0 else row2_ticks
    strip_panel((l, 570, r, 681), (557.3, 570), strip_titles[i], c21_stats[i], c21_boxes[i], cloud, xs, ys, rows,
                col, cs, ca, lim, ticks, ylabel="Median CN of Chr 21" if i == 0 else None, left_axis=i < 2,
                fmt="%.1f" if i == 1 else None)

for letter, lx, ly in [("A", 1, 7), ("B", 232, 7), ("C", 461, 7), ("D", 1, 211), ("E", 231, 211), ("F", 1, 416)]:
    fig.text(lx / W, 1 - ly / H, letter, fontsize=7, fontweight="bold", va="center", color="black")

fig.savefig("out.png", dpi=100)
